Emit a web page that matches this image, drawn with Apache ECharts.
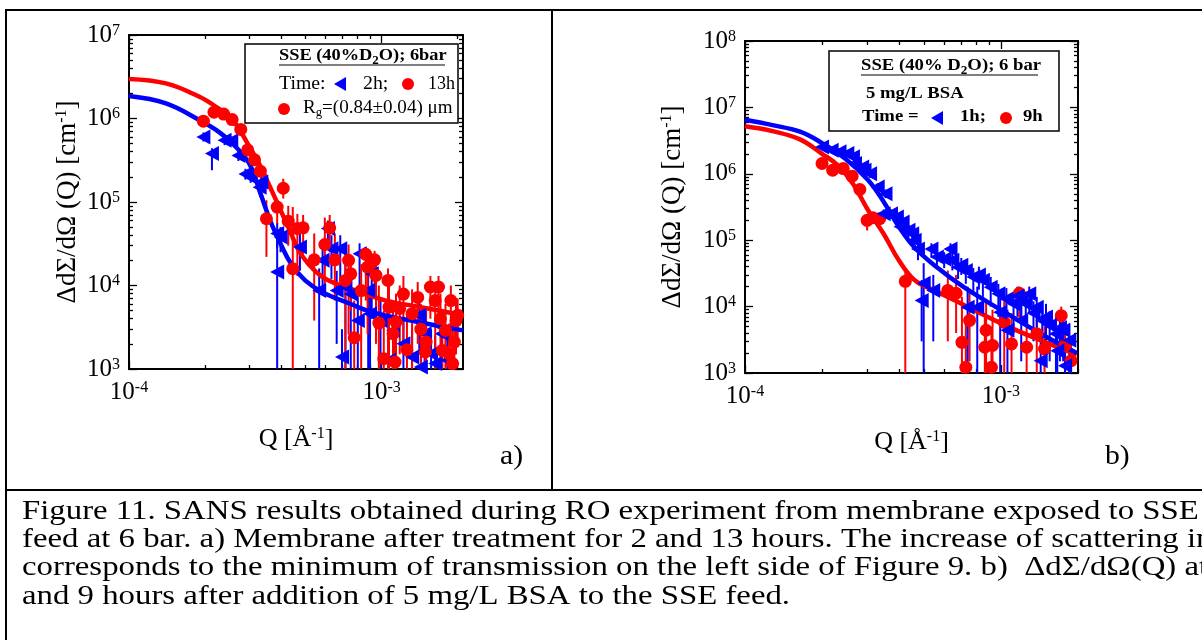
<!DOCTYPE html>
<html>
<head>
<meta charset="utf-8">
<title>SANS results</title>
<script src="https://cdn.jsdelivr.net/npm/echarts@6/dist/echarts.min.js"></script>
<style>
  html, body { margin: 0; padding: 0; background: #fff; }
  #chart { width: 1202px; height: 640px; }
  .warm { position: absolute; left: -9999px; font-family: 'Liberation Serif'; }
</style>
</head>
<body>
<div class="warm">Liberation <b>Serif</b></div>
<div id="chart"></div>
<script>
// ---- panel a) SSE (40% D2O), 6 bar : rows are [Q, I, lower, upper] ----
const a2h = [
  [1.97e-4, 6.0e5, 5.3e5, 6.8e5], [2.13e-4, 3.8e5, 2.4e5, 4.4e5], [2.39e-4, 5.5e5, 4.8e5, 6.2e5],
  [2.54e-4, 5.4e5, 4.7e5, 6.1e5], [2.71e-4, 3.6e5, 3.1e5, 4.1e5], [2.89e-4, 2.17e5, 1.85e5, 2.5e5],
  [3.03e-4, 1.98e5, 1.7e5, 2.3e5], [3.29e-4, 1.5e5, 1.25e5, 1.75e5], [3.34e-4, 1.73e5, 1.45e5, 2.0e5],
  [3.86e-4, 4.2e4, 2.8e4, 5.6e4], [3.98e-4, 3.8e4, 2.5e4, 5.0e4], [3.86e-4, 1.45e4, 1e3, 4.2e4],
  [4.75e-4, 2.9e4, 1.5e4, 4.4e4], [6.13e-4, 4.8e4, 3.0e4, 6.0e4], [6.33e-4, 2.75e4, 1.2e4, 4.0e4],
  [6.86e-4, 2.75e4, 1.2e4, 4.0e4], [5.84e-4, 2.0e4, 8.0e3, 3.2e4], [5.66e-4, 8.7e3, 1e3, 1.6e4],
  [7.19e-4, 9.6e3, 1e3, 1.8e4], [6.97e-4, 1.39e3, 1e3, 3.0e3], [8.18e-4, 2.4e4, 9.0e3, 3.2e4],
  [8.05e-4, 3.8e3, 1e3, 8.0e3], [8.85e-4, 8.7e3, 1e3, 1.5e4], [9.0e-4, 4.6e3, 1e3, 9.0e3],
  [9.14e-4, 1.38e4, 4.0e3, 2.0e4], [9.9e-4, 3.8e3, 1e3, 7.0e3], [1.07e-3, 1.27e3, 1e3, 3.0e3],
  [1.11e-3, 2.9e3, 1e3, 5.5e3], [1.22e-3, 2.0e3, 1e3, 4.0e3], [1.32e-3, 1.39e3, 1e3, 3.0e3],
  [1.41e-3, 4.4e3, 1.5e3, 7.0e3], [1.48e-3, 2.65e3, 1e3, 5.0e3], [1.57e-3, 1.52e3, 1e3, 3.0e3],
  [1.63e-3, 1.16e3, 1e3, 2.5e3], [1.73e-3, 2.65e3, 1e3, 5.0e3], [1.82e-3, 1.27e3, 1e3, 2.5e3],
  [1.43e-3, 1.06e3, 1e3, 2.2e3], [7.55e-4, 7.9e3, 1e3, 1.5e4], [6.64e-4, 8.7e3, 2.0e3, 1.5e4]
];
const a13h = [
  [1.97e-4, 9.3e5, 8.6e5, 1.0e6], [2.17e-4, 1.19e6, 1.1e6, 1.28e6], [2.37e-4, 1.13e6, 1.05e6, 1.22e6],
  [2.56e-4, 9.7e5, 8.9e5, 1.05e6], [2.77e-4, 7.4e5, 6.7e5, 8.1e5], [2.95e-4, 4.2e5, 3.8e5, 4.6e5],
  [3.14e-4, 3.2e5, 2.8e5, 3.6e5], [3.31e-4, 2.34e5, 2.0e5, 2.7e5], [4.08e-4, 1.46e5, 1.1e5, 1.9e5],
  [3.86e-4, 8.7e4, 5.5e4, 1.05e5], [3.5e-4, 6.3e4, 2.2e4, 1.05e5], [4.27e-4, 5.9e4, 3.0e4, 9.0e4],
  [4.64e-4, 4.8e4, 1.3e4, 7.2e4], [4.89e-4, 4.9e4, 2.4e4, 7.0e4], [4.45e-4, 1.59e4, 1e3, 8.7e4],
  [5.41e-4, 2.03e4, 3.8e3, 4.2e4], [5.96e-4, 3.1e4, 1.0e4, 6.5e4], [6.23e-4, 4.9e4, 2.5e4, 7.0e4],
  [6.53e-4, 2.03e4, 6.6e3, 4.2e4], [7.4e-4, 2.0e4, 2.6e3, 3.1e4], [7.19e-4, 1.15e4, 1e3, 2.4e4],
  [7.79e-4, 2.37e3, 1e3, 6.6e3], [8.3e-4, 8.7e3, 1e3, 1.8e4], [8.66e-4, 2.36e4, 6.6e3, 2.9e4],
  [8.8e-4, 1.66e4, 2.6e3, 2.4e4], [9.38e-4, 2.03e4, 8.7e3, 2.6e4], [9.5e-4, 1.32e4, 2.0e3, 2.0e4],
  [1.06e-3, 1.15e4, 1e3, 1.6e4], [9.75e-4, 3.55e3, 1e3, 1.0e4], [1.02e-3, 1.33e3, 1e3, 5.0e3],
  [1.07e-3, 5.5e3, 1e3, 1.1e4], [1.13e-3, 1.21e3, 1e3, 3.5e3], [1.14e-3, 3.65e3, 1e3, 8.0e3],
  [1.22e-3, 7.9e3, 1.5e3, 1.3e4], [1.26e-3, 1.7e3, 1e3, 4.5e3], [1.32e-3, 4.6e3, 1e3, 9.0e3],
  [1.39e-3, 7.2e3, 2.0e3, 1.1e4], [1.43e-3, 3.0e3, 1e3, 6.0e3], [1.5e-3, 2.1e3, 1e3, 5.0e3],
  [1.56e-3, 9.6e3, 4.0e3, 1.3e4], [1.63e-3, 6.6e3, 1e3, 1.1e4], [1.68e-3, 9.6e3, 3.0e3, 1.3e4],
  [1.71e-3, 4.0e3, 1e3, 8.0e3], [1.74e-3, 1.67e3, 1e3, 4.0e3], [1.79e-3, 2.9e3, 1e3, 6.0e3],
  [1.88e-3, 6.6e3, 2.0e3, 1.0e4], [1.91e-3, 1.16e3, 1e3, 3.0e3], [1.94e-3, 2.1e3, 1e3, 5.0e3],
  [1.97e-3, 3.8e3, 1.5e3, 7.0e3], [2.0e-3, 4.4e3, 2.0e3, 7.0e3], [1.85e-3, 1.52e3, 1e3, 3.5e3],
  [1.49e-3, 1.6e3, 1e3, 4.0e3], [1.11e-3, 2.65e3, 1e3, 6.0e3], [1.18e-3, 5.3e3, 1.5e3, 1.0e4],
  [7.55e-4, 1.38e4, 5.0e3, 2.2e4]
];
// fitted curves [Q, I]
const aFit2h = [
  [1e-4, 1.86e6], [1.4e-4, 1.52e6], [1.9e-4, 9.6e5], [2.21e-4, 7.3e5], [2.57e-4, 5.0e5],
  [2.99e-4, 2.9e5], [3.29e-4, 1.35e5], [3.62e-4, 6.0e4], [3.98e-4, 3.16e4], [4.38e-4, 1.82e4],
  [4.98e-4, 1.15e4], [5.84e-4, 8.3e3], [7.55e-4, 6.0e3], [9.14e-4, 4.8e3], [1.43e-3, 3.6e3],
  [2.1e-3, 2.9e3]
];
const aFit13h = [
  [1e-4, 2.98e6], [1.4e-4, 2.63e6], [1.9e-4, 1.82e6], [2.21e-4, 1.38e6], [2.56e-4, 9.8e5],
  [2.95e-4, 5.0e5], [3.31e-4, 2.7e5], [3.62e-4, 1.5e5], [3.98e-4, 8.0e4], [4.38e-4, 4.2e4],
  [4.66e-4, 2.75e4], [5.14e-4, 1.8e4], [5.84e-4, 1.26e4], [6.64e-4, 1.05e4], [8.3e-4, 8.3e3],
  [1.04e-3, 6.6e3], [1.43e-3, 5.5e3], [2.1e-3, 4.4e3]
];

// ---- panel b) SSE + 5 mg/L BSA : rows are [Q, I, lower, upper] ----
const b1h = [
  [2.0e-4, 2.54e6, 2.3e6, 2.8e6], [2.18e-4, 2.26e6, 2.05e6, 2.5e6], [2.34e-4, 2.14e6, 1.9e6, 2.4e6],
  [2.51e-4, 2.02e6, 1.8e6, 2.25e6], [2.69e-4, 1.43e6, 1.25e6, 1.6e6], [2.87e-4, 1.27e6, 1.1e6, 1.45e6],
  [3.08e-4, 1.0e6, 8.7e5, 1.15e6], [3.3e-4, 6.3e5, 5.4e5, 7.2e5], [3.54e-4, 5.0e5, 4.3e5, 5.8e5],
  [3.72e-4, 2.5e5, 2.1e5, 2.9e5], [3.92e-4, 2.23e5, 1.9e5, 2.6e5], [4.13e-4, 1.88e5, 1.6e5, 2.2e5],
  [4.35e-4, 1.41e5, 1.1e5, 1.7e5], [4.5e-4, 1.25e5, 9.5e4, 1.5e5], [4.74e-4, 7.4e4, 5.0e4, 9.5e4],
  [4.99e-4, 2.25e4, 1e3, 4.5e4], [4.9e-4, 1.24e4, 3.0e3, 2.5e4], [5.35e-4, 7.4e4, 5.5e4, 9.0e4],
  [5.62e-4, 5.6e4, 4.0e4, 7.0e4], [6.35e-4, 7.4e4, 5.5e4, 9.0e4], [6.46e-4, 5.0e4, 3.5e4, 6.5e4],
  [6.8e-4, 3.9e4, 2.6e4, 5.0e4], [7.29e-4, 3.5e4, 2.2e4, 4.6e4], [7.8e-4, 2.78e4, 1.5e4, 3.8e4],
  [8.08e-4, 9.8e3, 1e3, 2.0e4], [8.5e-4, 2.5e4, 1.4e4, 3.4e4], [9.12e-4, 1.96e4, 1.0e4, 2.8e4],
  [9.93e-4, 8.2e3, 1e3, 1.5e4], [1.06e-3, 4.4e3, 1e3, 9.0e3], [1.12e-3, 1.1e4, 4.0e3, 1.6e4],
  [1.2e-3, 1.24e4, 6.0e3, 1.7e4], [1.29e-3, 1.56e4, 8.0e3, 2.0e4], [1.38e-3, 9.8e3, 4.0e3, 1.4e4],
  [1.45e-3, 6.2e3, 2.0e3, 1.0e4], [1.55e-3, 5.2e3, 1.5e3, 8.5e3], [1.64e-3, 3.9e3, 1e3, 7.0e3],
  [1.75e-3, 4.4e3, 1.5e3, 7.0e3], [1.85e-3, 3.1e3, 1e3, 5.5e3], [1.43e-3, 1.53e3, 1e3, 3.5e3],
  [1.78e-3, 1.29e3, 1e3, 3.0e3], [1.2e-3, 6.2e3, 1.5e3, 1.1e4], [5.44e-4, 1.75e4, 3.0e3, 3.0e4],
  [9.77e-4, 1.56e4, 7.0e3, 2.2e4], [7.41e-4, 9.8e3, 1e3, 2.0e4], [1.66e-3, 2.17e3, 1e3, 4.0e3],
  [3.48e-4, 2.5e5, 2.1e5, 2.9e5], [2.93e-4, 1.13e6, 1.0e6, 1.3e6], [2.64e-4, 1.8e6, 1.6e6, 2.0e6],
  [4.05e-4, 1.6e5, 1.35e5, 1.85e5], [4.6e-4, 1.0e5, 8.0e4, 1.2e5], [6.0e-4, 5.2e4, 3.8e4, 6.6e4],
  [7.0e-4, 4.2e4, 3.0e4, 5.4e4], [8.2e-4, 3.0e4, 1.8e4, 4.0e4], [1.05e-3, 1.3e4, 5.0e3, 1.9e4],
  [1.16e-3, 1.45e4, 7.0e3, 2.0e4], [1.25e-3, 1.1e4, 5.0e3, 1.6e4], [1.34e-3, 8.0e3, 3.0e3, 1.2e4],
  [1.5e-3, 7.0e3, 2.5e3, 1.1e4], [1.7e-3, 4.8e3, 1.5e3, 8.0e3]
];
const b9h = [
  [2.0e-4, 1.43e6, 1.3e6, 1.6e6], [2.2e-4, 1.13e6, 1.02e6, 1.25e6], [2.42e-4, 1.2e6, 1.08e6, 1.33e6],
  [2.62e-4, 9.2e5, 8.2e5, 1.03e6], [2.81e-4, 5.8e5, 5.1e5, 6.6e5], [3.0e-4, 1.99e5, 1.4e5, 2.4e5],
  [3.16e-4, 2.18e5, 1.8e5, 2.6e5], [3.36e-4, 2.11e5, 1.7e5, 2.5e5], [4.23e-4, 2.4e4, 1e3, 3.5e4],
  [6.2e-4, 1.75e4, 3.0e3, 3.5e4], [6.68e-4, 1.59e4, 4.0e3, 3.0e4], [7.04e-4, 2.9e3, 1e3, 1.4e4],
  [7.29e-4, 1.22e3, 1e3, 6.0e3], [7.54e-4, 6.2e3, 1.5e3, 1.6e4], [8.75e-4, 4.4e3, 1e3, 1.2e4],
  [8.65e-4, 2.44e3, 1e3, 8.0e3], [9.27e-4, 2.6e3, 1e3, 9.0e3], [9.18e-4, 1.22e3, 1e3, 5.0e3],
  [1.03e-3, 5.8e3, 1e3, 1.2e4], [1.1e-3, 2.74e3, 1e3, 8.0e3], [1.18e-3, 1.59e4, 6.0e3, 2.0e4],
  [1.26e-3, 2.44e3, 1e3, 6.0e3], [1.48e-3, 2.3e3, 1e3, 5.0e3], [1.72e-3, 7.3e3, 3.0e3, 1.0e4],
  [1.78e-3, 2.6e3, 1e3, 5.0e3], [1.88e-3, 1.53e3, 1e3, 3.0e3], [1.38e-3, 3.9e3, 1e3, 7.0e3]
];
const bFit1h = [
  [1e-4, 6.5e6], [1.28e-4, 5.4e6], [1.64e-4, 4.3e6], [2.0e-4, 2.9e6], [2.46e-4, 1.7e6],
  [3.03e-4, 8.0e5], [3.48e-4, 3.8e5], [3.99e-4, 1.6e5], [4.58e-4, 7.9e4], [5.62e-4, 3.9e4],
  [7.16e-4, 1.96e4], [1.01e-3, 8.7e3], [1.43e-3, 3.9e3], [1.98e-3, 2.0e3]
];
const bFit9h = [
  [1e-4, 5.2e6], [1.28e-4, 4.4e6], [1.64e-4, 3.3e6], [2.0e-4, 2.0e6], [2.3e-4, 1.35e6],
  [2.64e-4, 7.1e5], [3.03e-4, 2.8e5], [3.48e-4, 1.25e5], [3.99e-4, 5.0e4], [4.6e-4, 2.5e4],
  [5.4e-4, 1.8e4], [6.2e-4, 1.4e4], [7.2e-4, 1.05e4], [1.01e-3, 5.5e3], [1.43e-3, 3.1e3],
  [1.98e-3, 1.9e3]
];

// tick labels (decades only)
const xLabels = [1e-4, 1e-3];
const yLabelsA = [1e3, 1e4, 1e5, 1e6, 1e7];
const yLabelsB = [1e3, 1e4, 1e5, 1e6, 1e7, 1e8];

const captionLines = [
  'Figure 11. SANS results obtained during RO experiment from membrane exposed to SSE',
  'feed at 6 bar. a) Membrane after treatment for 2 and 13 hours. The increase of scattering in',
  'corresponds to the minimum of transmission on the left side of Figure 9. b)  ΔdΣ/dΩ(Q) at 2',
  'and 9 hours after addition of 5 mg/L BSA to the SSE feed.'
];

const FONT = "'Liberation Serif', 'Times New Roman', Times, serif";
const BLUE = '#0000ff';
const RED = '#ff0000';
// the source figure is drawn a little wider than tall
const STRETCH = 1.215;

/* minor ticks 2..9 of every decade between lo and hi */
function minorTicks(lo, hi) {
  const out = [];
  for (let d = lo; d < hi; d *= 10) {
    for (let k = 2; k <= 9; k++) if (d * k <= hi) out.push(d * k);
  }
  return out;
}

const labelRich = {
  b: { fontFamily: FONT, fontSize: 25, lineHeight: 25, color: '#000' },
  s: { fontFamily: FONT, fontSize: 16, lineHeight: 15, color: '#000', verticalAlign: 'top' }
};
function decadeLabel(v) {
  return '{b|10}{s|' + Math.round(Math.log10(v)) + '}';
}

/* four axes per side: labelled major ticks, minor ticks, mirrored major, mirrored minor */
function makeAxes(dim, grid, min, max, labels, name, nameGap, nameSize) {
  const minor = minorTicks(min, max);
  const pos = dim === 'x' ? ['bottom', 'top'] : ['left', 'right'];
  const base = {
    type: 'log', logBase: 10, gridIndex: grid, min: min, max: max,
    splitLine: { show: false },
    axisLine: { onZero: false, lineStyle: { color: '#000', width: 2 } }
  };
  const tick = (vals, len) => ({ inside: true, length: len, customValues: vals, lineStyle: { color: '#000', width: 1.3 } });
  return [
    Object.assign({}, base, {
      position: pos[0], axisTick: tick(labels, 8),
      axisLabel: { customValues: labels, formatter: decadeLabel, rich: labelRich, margin: dim === 'x' ? 11 : 9 },
      name: name, nameLocation: 'middle', nameGap: nameGap,
      nameTextStyle: {
        fontFamily: FONT, fontSize: nameSize, color: '#000',
        rich: { s: { fontFamily: FONT, fontSize: 16, lineHeight: 16, verticalAlign: 'top', color: '#000' } }
      }
    }),
    Object.assign({}, base, { position: pos[0], axisTick: tick(minor, 4), axisLabel: { show: false } }),
    Object.assign({}, base, { position: pos[1], axisTick: tick(labels, 8), axisLabel: { show: false } }),
    Object.assign({}, base, { position: pos[1], axisTick: tick(minor, 4), axisLabel: { show: false } })
  ];
}

function errorBars(rows, ai, color) {
  return {
    type: 'custom', xAxisIndex: ai, yAxisIndex: ai, clip: true, silent: true, z: 2,
    data: rows.map(r => [r[0], r[2], r[3]]),
    encode: { x: 0, y: [1, 2] },
    renderItem: function (params, api) {
      const lo = api.coord([api.value(0), api.value(1)]);
      const hi = api.coord([api.value(0), api.value(2)]);
      return {
        type: 'line',
        shape: { x1: lo[0], y1: lo[1], x2: hi[0], y2: hi[1] },
        style: { stroke: color, lineWidth: 2 }
      };
    }
  };
}
function fitLine(rows, ai, color) {
  return {
    type: 'line', xAxisIndex: ai, yAxisIndex: ai, data: rows, smooth: 0.4,
    showSymbol: false, silent: true, z: 3,
    lineStyle: { color: color, width: 4.5 }
  };
}
function points(rows, ai, color, tri) {
  return {
    type: 'scatter', xAxisIndex: ai, yAxisIndex: ai, silent: true, z: 4,
    data: rows.map(r => [r[0], r[1]]),
    symbol: tri ? 'triangle' : 'circle',
    symbolRotate: tri ? 90 : 0,
    symbolSize: tri ? [15, 14] : 13,
    itemStyle: { color: color, opacity: 1 }
  };
}

/* ---- static decorations: frame, legends, panel letters, caption ---- */
function txt(x, y, text, size, opts, sx) {
  return {
    type: 'text', x: x, y: y, scaleX: sx || 1, z: 11,
    style: Object.assign({ text: text, fontFamily: FONT, fontSize: size, fill: '#000', verticalAlign: 'middle' }, opts || {})
  };
}
const subRich = {
  t: { fontFamily: FONT, fontSize: 17, lineHeight: 22, fontWeight: 'bold', color: '#000' },
  u: { fontFamily: FONT, fontSize: 12, lineHeight: 10, fontWeight: 'bold', color: '#000', verticalAlign: 'bottom' },
  n: { fontFamily: FONT, fontSize: 18, lineHeight: 22, color: '#000' },
  g: { fontFamily: FONT, fontSize: 12, lineHeight: 10, color: '#000', verticalAlign: 'bottom' }
};
function tri(cx, cy, color) {
  return { type: 'polygon', z: 11, shape: { points: [[cx + 6, cy - 7], [cx + 6, cy + 7], [cx - 6, cy]] }, style: { fill: color } };
}
function dot(cx, cy, color) {
  return { type: 'circle', z: 11, shape: { cx: cx, cy: cy, r: 6 }, style: { fill: color } };
}
function hline(x1, x2, y, w) {
  return { type: 'line', z: 11, shape: { x1: x1, y1: y, x2: x2, y2: y }, style: { stroke: '#000', lineWidth: w } };
}
function vline(x, y1, y2, w) {
  return { type: 'line', z: 11, shape: { x1: x, y1: y1, x2: x, y2: y2 }, style: { stroke: '#000', lineWidth: w } };
}

const graphics = [
  // table frame
  hline(5, 1202, 10, 2), hline(5, 1202, 490, 2), vline(6, 9, 640, 2), vline(552, 9, 490, 2),
  // legend a
  { type: 'rect', shape: { x: 245, y: 44, width: 213, height: 79 }, style: { fill: '#fff', stroke: '#000', lineWidth: 1.5 }, z: 10 },
  txt(279, 56, '{t|SSE (40%D}{u|2}{t|O); 6bar}', 17, { rich: subRich }, 1.08),
  hline(279, 445, 65, 1.2),
  txt(279, 84, 'Time:', 18, null, 1.1),
  tri(340, 84, BLUE),
  txt(363, 84, '2h;', 18, null, 1.1),
  dot(408, 84, RED),
  txt(428, 84, '13h', 18, null, 1.0),
  dot(284, 109, RED),
  txt(303, 108, '{n|R}{g|g}{n|=(0.84±0.04) μm}', 18, { rich: subRich }, 1.06),
  // legend b
  { type: 'rect', shape: { x: 829, y: 51, width: 230, height: 80 }, style: { fill: '#fff', stroke: '#000', lineWidth: 1.5 }, z: 10 },
  txt(861, 66, '{t|SSE (40% D}{u|2}{t|O); 6 bar}', 17, { rich: subRich }, 1.1),
  hline(861, 1038, 75, 1.2),
  txt(866, 94, '5 mg/L BSA', 17, { fontWeight: 'bold' }, 1.1),
  txt(862, 117, 'Time =', 17, { fontWeight: 'bold' }, 1.1),
  tri(937, 118, BLUE),
  txt(960, 117, '1h;', 17, { fontWeight: 'bold' }, 1.1),
  dot(1006, 118, RED),
  txt(1023, 117, '9h', 17, { fontWeight: 'bold' }, 1.1),
  // panel letters
  txt(500, 457, 'a)', 27, null, 1.1),
  txt(1105, 457, 'b)', 27, null, 1.1)
].concat(captionLines.map((line, i) => txt(22, [512, 540, 568, 597][i], line, 27, null, STRETCH)));

function draw() {
  const chart = echarts.init(document.getElementById('chart'));
  chart.setOption({
    backgroundColor: '#fff',
    animation: false,
    grid: [
      { left: 129, top: 35, width: 334, height: 334, outerBoundsMode: 'none' },
      { left: 745, top: 41, width: 333, height: 332, outerBoundsMode: 'none' }
    ],
    xAxis: [].concat(
      makeAxes('x', 0, 1e-4, 2.1e-3, xLabels, 'Q [Å{s|-1}]', 57, 26),
      makeAxes('x', 1, 1e-4, 2e-3, xLabels, 'Q [Å{s|-1}]', 56, 26)
    ),
    yAxis: [].concat(
      makeAxes('y', 0, 1e3, 1e7, yLabelsA, 'ΔdΣ/dΩ (Q) [cm{s|-1}]', 48, 27),
      makeAxes('y', 1, 1e3, 1e8, yLabelsB, 'ΔdΣ/dΩ (Q) [cm{s|-1}]', 59, 27)
    ),
    series: [
      errorBars(a2h, 0, BLUE), errorBars(a13h, 0, RED),
      fitLine(aFit2h, 0, BLUE), fitLine(aFit13h, 0, RED),
      points(a2h, 0, BLUE, true), points(a13h, 0, RED, false),
      errorBars(b9h, 4, RED), errorBars(b1h, 4, BLUE),
      fitLine(bFit9h, 4, RED), fitLine(bFit1h, 4, BLUE),
      points(b9h, 4, RED, false), points(b1h, 4, BLUE, true)
    ],
    graphic: graphics
  });
}

// make sure the serif face is resolved before the canvas measures text
Promise.all([
  document.fonts.load("27px 'Liberation Serif'"),
  document.fonts.load("bold 17px 'Liberation Serif'")
]).then(draw, draw);
</script>
</body>
</html>
